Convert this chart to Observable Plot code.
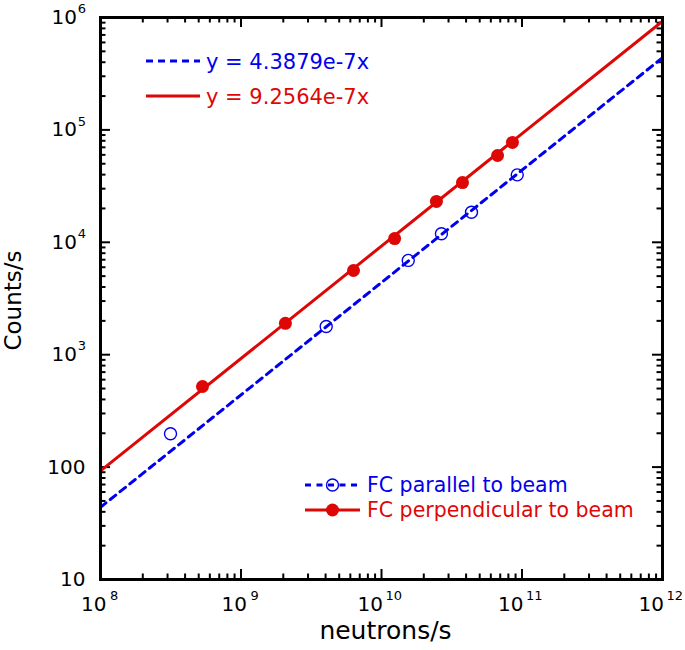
<!DOCTYPE html>
<html><head><meta charset="utf-8">
<script src="https://cdn.jsdelivr.net/npm/d3@7"></script>
<script src="https://cdn.jsdelivr.net/npm/@observablehq/plot@0.6"></script>
<style>
html,body{margin:0;padding:0;background:#fff;}
</style>
</head><body><div id="chart"></div>
<script>
// ---- data ----
const parallelX = [3.15e8, 4.04e9, 1.55e10, 2.67e10, 4.37e10, 9.25e10];
const parallelY = [198, 1780, 6900, 11900, 18500, 39800];
const perpX = [5.32e8, 2.07e9, 6.32e9, 1.24e10, 2.46e10, 3.77e10, 6.70e10, 8.55e10];
const perpY = [521, 1900, 5610, 10800, 23100, 34000, 59200, 77300];
const fitX = [1e8, 1e12];
const parallelFitY = [43.879, 438790];
const perpFitY = [92.564, 925640];
const fitLabels = ["y = 4.3879e-7x", "y = 9.2564e-7x"];
const seriesLabels = ["FC parallel to beam", "FC perpendicular to beam"];
const xTitle = "neutrons/s";
const yTitle = "Counts/s";
const xTickValues = [1e8, 1e9, 1e10, 1e11, 1e12];
const xTickBase = ["10", "10", "10", "10", "10"];
const xTickExp = ["8", "9", "10", "11", "12"];
const yTickValues = [10, 100, 1e3, 1e4, 1e5, 1e6];
const yTickBase = ["10", "100", "10", "10", "10", "10"];
const yTickExp = ["", "", "3", "4", "5", "6"];

// ---- style / layout ----
const FONT = "DejaVu Sans, Verdana, sans-serif";
const BLUE = "#0000ee";
const RED = "#dd0806";
const W = 685, H = 650;
const M = {top: 17, right: 23, bottom: 71, left: 100};
const FW = W - M.left - M.right, FH = H - M.top - M.bottom;
const MAJ = 10, MIN = 5.5;

const parallel = parallelX.map((x, i) => ({x, y: parallelY[i]}));
const perp = perpX.map((x, i) => ({x, y: perpY[i]}));
const fitPar = fitX.map((x, i) => ({x, y: parallelFitY[i]}));
const fitPerp = fitX.map((x, i) => ({x, y: perpFitY[i]}));

const xDomain = [xTickValues[0], xTickValues[xTickValues.length - 1]];
const yDomain = [yTickValues[0], yTickValues[yTickValues.length - 1]];
const isPow = v => Math.abs(Math.log10(v) - Math.round(Math.log10(v))) < 1e-9;
const xMinor = d3.scaleLog().domain(xDomain).ticks().filter(v => !isPow(v));
const yMinor = d3.scaleLog().domain(yDomain).ticks().filter(v => !isPow(v));

const xi = d3.range(xTickValues.length);
const yi = d3.range(yTickValues.length);
const tk = {stroke: "black", strokeWidth: 2};

function legend(index, scales, values, dims) {
  const g = d3.create("svg:g").attr("font-family", FONT).attr("text-anchor", "start");
  const L = dims.marginLeft;
  // top-left fit legend
  const rows = [
    {y: 61, color: BLUE, dash: "7,5", text: fitLabels[0]},
    {y: 96, color: RED, dash: null, text: fitLabels[1]}
  ];
  rows.forEach(r => {
    g.append("line").attr("x1", L + 46).attr("x2", L + 100).attr("y1", r.y).attr("y2", r.y)
      .attr("stroke", r.color).attr("stroke-width", 3).attr("stroke-dasharray", r.dash);
    g.append("text").attr("x", L + 106).attr("y", r.y).attr("dy", "0.36em").attr("text-anchor", "start")
      .attr("font-size", 21).attr("fill", r.color).text(r.text);
  });
  // bottom-right series legend
  const rows2 = [
    {y: 485, color: BLUE, dash: "6,5.5", open: true, text: seriesLabels[0]},
    {y: 510, color: RED, dash: null, open: false, text: seriesLabels[1]}
  ];
  rows2.forEach(r => {
    g.append("line").attr("x1", L + 205).attr("x2", L + 260).attr("y1", r.y).attr("y2", r.y)
      .attr("stroke", r.color).attr("stroke-width", 3).attr("stroke-dasharray", r.dash);
    g.append("circle").attr("cx", L + 232.5).attr("cy", r.y).attr("r", r.open ? 6 : 6.5)
      .attr("fill", r.open ? "none" : r.color).attr("stroke", r.color).attr("stroke-width", r.open ? 1.4 : 0);
    g.append("text").attr("x", L + 267).attr("y", r.y).attr("dy", "0.36em").attr("text-anchor", "start")
      .attr("font-size", 20.5).attr("fill", r.color).text(r.text);
  });
  return g.node();
}

const chart = Plot.plot({
  width: W, height: H,
  marginTop: M.top, marginRight: M.right, marginBottom: M.bottom, marginLeft: M.left,
  style: {background: "white", fontFamily: FONT, overflow: "visible"},
  x: {type: "log", domain: xDomain, axis: null},
  y: {type: "log", domain: yDomain, axis: null},
  marks: [
    // inward ticks on all four sides
    Plot.ruleX(xTickValues, {x: d => d, insetTop: FH - MAJ, ...tk}),
    Plot.ruleX(xTickValues, {x: d => d, insetBottom: FH - MAJ, ...tk}),
    Plot.ruleX(xMinor, {x: d => d, insetTop: FH - MIN, ...tk}),
    Plot.ruleX(xMinor, {x: d => d, insetBottom: FH - MIN, ...tk}),
    Plot.ruleY(yTickValues, {y: d => d, insetRight: FW - MAJ, ...tk}),
    Plot.ruleY(yTickValues, {y: d => d, insetLeft: FW - MAJ, ...tk}),
    Plot.ruleY(yMinor, {y: d => d, insetRight: FW - MIN, ...tk}),
    Plot.ruleY(yMinor, {y: d => d, insetLeft: FW - MIN, ...tk}),
    // x tick labels (10 with superscript exponent)
    Plot.text(xi, {filter: i => xTickExp[i].length === 1, x: i => xTickValues[i], text: i => xTickBase[i],
      frameAnchor: "bottom", textAnchor: "end", lineAnchor: "middle", dx: 6, dy: 25, fontSize: 20, fill: "black"}),
    Plot.text(xi, {filter: i => xTickExp[i].length === 2, x: i => xTickValues[i], text: i => xTickBase[i],
      frameAnchor: "bottom", textAnchor: "end", lineAnchor: "middle", dx: 1.5, dy: 25, fontSize: 20, fill: "black"}),
    Plot.text(xi, {filter: i => xTickExp[i].length === 1, x: i => xTickValues[i], text: i => xTickExp[i],
      frameAnchor: "bottom", textAnchor: "start", lineAnchor: "middle", dx: 9.5, dy: 16, fontSize: 13, fill: "black"}),
    Plot.text(xi, {filter: i => xTickExp[i].length === 2, x: i => xTickValues[i], text: i => xTickExp[i],
      frameAnchor: "bottom", textAnchor: "start", lineAnchor: "middle", dx: 4, dy: 16, fontSize: 13, fill: "black"}),
    // y tick labels
    Plot.text(yi, {filter: i => yTickExp[i] === "", y: i => yTickValues[i], text: i => yTickBase[i],
      frameAnchor: "left", textAnchor: "end", lineAnchor: "middle", dx: -15, fontSize: 20, fill: "black"}),
    Plot.text(yi, {filter: i => yTickExp[i] !== "", y: i => yTickValues[i], text: i => yTickBase[i],
      frameAnchor: "left", textAnchor: "end", lineAnchor: "middle", dx: -23.5, fontSize: 20, fill: "black"}),
    Plot.text(yi, {filter: i => yTickExp[i] !== "", y: i => yTickValues[i], text: i => yTickExp[i],
      frameAnchor: "left", textAnchor: "end", lineAnchor: "middle", dx: -14.5, dy: -8.5, fontSize: 13, fill: "black"}),
    // axis titles
    Plot.text([xTitle], {frameAnchor: "bottom", textAnchor: "middle", lineAnchor: "bottom", dx: 4, dy: 59, fontSize: 25, fill: "black"}),
    Plot.text([yTitle], {frameAnchor: "left", textAnchor: "middle", lineAnchor: "bottom", rotate: -90, dx: -79.5, dy: 2, fontSize: 23, fill: "black"}),
    // fit lines
    Plot.line(fitPerp, {x: "x", y: "y", stroke: RED, strokeWidth: 3}),
    Plot.line(fitPar, {x: "x", y: "y", stroke: BLUE, strokeWidth: 3, strokeDasharray: "7,5.5"}),
    // data points
    Plot.dot(parallel, {x: "x", y: "y", r: 6, fill: "none", stroke: BLUE, strokeWidth: 1.4}),
    Plot.dot(perp, {x: "x", y: "y", r: 6.5, fill: RED, stroke: "none"}),
    Plot.frame({stroke: "black", strokeWidth: 3}),
    legend
  ]
});
document.getElementById("chart").appendChild(chart);
</script>
</body></html>
